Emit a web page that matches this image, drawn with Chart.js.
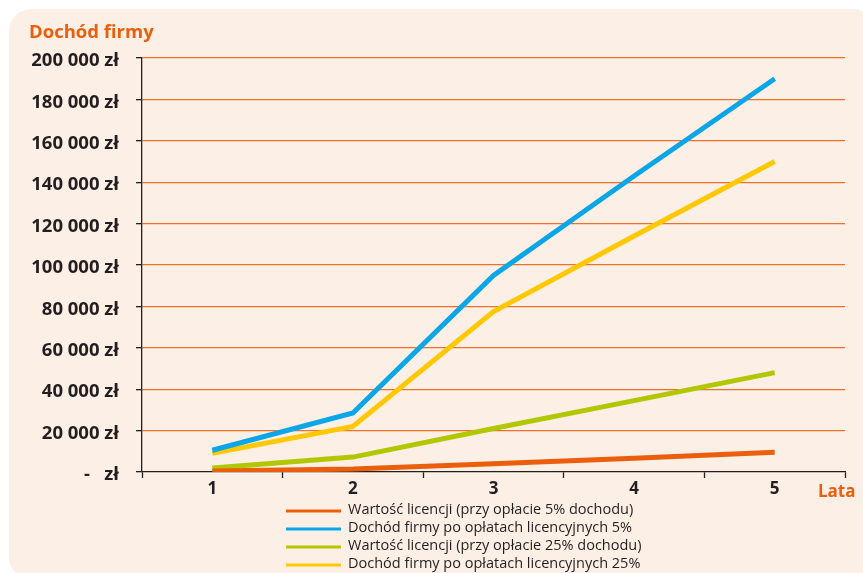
<!DOCTYPE html>
<html lang="pl">
<head>
<meta charset="utf-8">
<title>Dochód firmy</title>
<script src="https://cdn.jsdelivr.net/npm/chart.js@4/dist/chart.umd.min.js"></script>
<style>
  html, body { margin: 0; padding: 0; background: #ffffff; }
  #wrap { position: relative; width: 863px; height: 573px; overflow: hidden; }
  #panel { position: absolute; left: 9px; top: 9px; width: 866px; height: 570px;
           border-radius: 22px; background: #fcefe6; }
  #chart { position: absolute; left: 0; top: 0; }
</style>
</head>
<body>
<div id="wrap">
  <div id="panel"></div>
  <canvas id="chart" width="863" height="573"></canvas>
</div>
<script>
// Years on the horizontal axis
const years = ['1', '2', '3', '4', '5'];

// Values per year (zł)
const licence5  = [500, 1400, 4000, 6600, 9600];          // licence value at 5% of revenue
const income5   = [10500, 28500, 95000, 143000, 190000];  // company income after 5% fees
const licence25 = [1900, 7200, 21000, 34500, 48000];      // licence value at 25% of revenue
const income25  = [9000, 22000, 77500, 114000, 150000];   // company income after 25% fees

// Series names shown in the legend
const seriesNames = [
  'Wartość licencji (przy opłacie 5% dochodu)',
  'Dochód firmy po opłatach licencyjnych 5%',
  'Wartość licencji (przy opłacie 25% dochodu)',
  'Dochód firmy po opłatach licencyjnych 25%'
];

// Y axis range and tick step
const yMin = 0;
const yMax = 200000;
const yStep = 20000;

const axisTitle = 'Dochód firmy';
const xAxisTitle = 'Lata';

const ORANGE = '#eb5f0c';
const BLUE = '#0aa6e8';
const GREEN = '#b1c800';
const YELLOW = '#ffc800';
const INK = '#231f20';
const GRID = '#ef7028';
const FONT = "'Open Sans', 'DejaVu Sans', sans-serif";

const seriesColors = [ORANGE, BLUE, GREEN, YELLOW];
const seriesValues = [licence5, income5, licence25, income25];

function formatZl(v) {
  if (v === 0) return '-   zł';
  return String(v).replace(/\B(?=(\d{3})+(?!\d))/g, ' ') + ' zł';
}

// Titles and the stacked single-column legend
const decorations = {
  id: 'decorations',
  afterDraw(chart) {
    const ctx = chart.ctx;
    const area = chart.chartArea;
    ctx.save();
    ctx.textAlign = 'left';
    ctx.textBaseline = 'alphabetic';
    ctx.fillStyle = ORANGE;
    ctx.font = 'bold 18.5px ' + FONT;
    ctx.fillText(axisTitle, 29, 38);
    ctx.font = 'bold 17px ' + FONT;
    ctx.fillText(xAxisTitle, area.right - 27, 497);

    // legend
    const lx = 286, ly = 511, rowH = 18, sw = 55;
    ctx.font = '14.5px ' + FONT;
    ctx.textBaseline = 'middle';
    chart.data.datasets.forEach((ds, i) => {
      const y = ly + i * rowH;
      ctx.strokeStyle = ds.borderColor;
      ctx.lineWidth = 3;
      ctx.beginPath();
      ctx.moveTo(lx, y);
      ctx.lineTo(lx + sw, y);
      ctx.stroke();
      ctx.fillStyle = INK;
      ctx.fillText(ds.label, lx + sw + 7, y - 1);
    });
    ctx.restore();
  }
};

new Chart(document.getElementById('chart'), {
  type: 'line',
  data: {
    labels: years,
    datasets: seriesNames.map((name, i) => ({
      label: name,
      data: seriesValues[i],
      borderColor: seriesColors[i],
      backgroundColor: seriesColors[i],
      borderWidth: 5,
      pointRadius: 0,
      pointHoverRadius: 0,
      tension: 0,
      fill: false
    }))
  },
  options: {
    responsive: false,
    devicePixelRatio: 1,
    animation: false,
    layout: { padding: { top: 58, right: 18, bottom: 0, left: 0 } },
    plugins: {
      legend: { display: false },
      title: { display: false },
      tooltip: { enabled: false }
    },
    scales: {
      x: {
        type: 'category',
        offset: true,
        afterFit(scale) { scale.height = 101; },
        border: { display: true, color: INK, width: 1.3 },
        grid: {
          offset: true,
          drawOnChartArea: false,
          drawTicks: true,
          tickLength: 6,
          tickColor: INK,
          tickWidth: 1.3
        },
        ticks: {
          color: INK,
          font: { family: FONT, size: 17, weight: 'bold' },
          padding: 1,
          maxRotation: 0
        }
      },
      y: {
        min: yMin,
        max: yMax,
        afterFit(scale) { scale.width = 142; },
        border: { display: true, color: INK, width: 1.3 },
        grid: {
          color: (c) => (c.tick && c.tick.value === 0 ? 'rgba(0,0,0,0)' : GRID),
          lineWidth: 1.3,
          drawTicks: true,
          tickLength: 6,
          tickColor: INK,
          tickWidth: 1.3
        },
        ticks: {
          stepSize: yStep,
          color: INK,
          font: { family: FONT, size: 18.5, weight: 'bold' },
          padding: 17,
          labelOffset: 3,
          callback: (v) => formatZl(v)
        }
      }
    }
  },
  plugins: [decorations]
});
</script>
</body>
</html>
